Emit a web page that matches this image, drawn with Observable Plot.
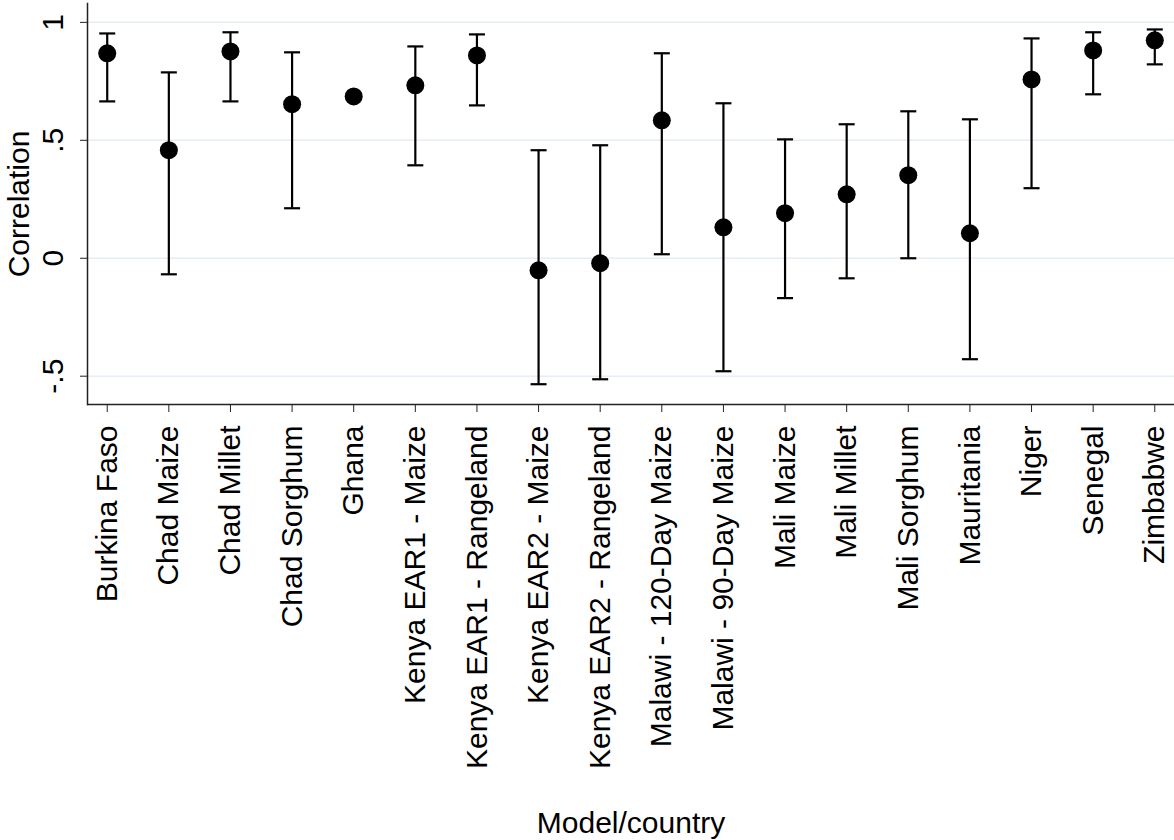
<!DOCTYPE html>
<html>
<head>
<meta charset="utf-8">
<script src="https://cdn.jsdelivr.net/npm/d3@7"></script>
<script src="https://cdn.jsdelivr.net/npm/@observablehq/plot@0.6"></script>
<style>
  html, body { margin: 0; padding: 0; background: #fff; }
  #chart svg { display: block; }
</style>
</head>
<body>
<div id="chart"></div>
<script>
const categories = [
  "Burkina Faso", "Chad Maize", "Chad Millet", "Chad Sorghum", "Ghana",
  "Kenya EAR1 - Maize", "Kenya EAR1 - Rangeland", "Kenya EAR2 - Maize",
  "Kenya EAR2 - Rangeland", "Malawi - 120-Day Maize", "Malawi - 90-Day Maize",
  "Mali Maize", "Mali Millet", "Mali Sorghum", "Mauritania", "Niger",
  "Senegal", "Zimbabwe"
];
const estimates = [0.869, 0.458, 0.877, 0.653, 0.686, 0.733, 0.860, -0.051, -0.021, 0.585, 0.131, 0.191, 0.271, 0.352, 0.106, 0.758, 0.881, 0.924];
const lower     = [0.665, -0.068, 0.665, 0.212, null, 0.394, 0.648, -0.534, -0.513, 0.017, -0.479, -0.169, -0.085, 0.000, -0.428, 0.297, 0.695, 0.822];
const upper     = [0.953, 0.788, 0.958, 0.873, null, 0.898, 0.949, 0.458, 0.479, 0.869, 0.657, 0.504, 0.568, 0.623, 0.589, 0.932, 0.958, 0.970];
const yTicks = [-0.5, 0, 0.5, 1];
const yTickLabels = ["-.5", "0", ".5", "1"];

const rows = categories.map((c, i) => ({name: c, est: estimates[i], lo: lower[i], hi: upper[i]}));
const bars = rows.filter(d => d.lo != null && d.hi != null);
const caps = bars.flatMap(d => [{name: d.name, v: d.lo}, {name: d.name, v: d.hi}]);

const capSymbol = {
  draw(context, size) {
    const r = Math.sqrt(size / Math.PI);
    context.moveTo(-r, 0);
    context.lineTo(r, 0);
  }
};

const chart = Plot.plot({
  width: 1174,
  height: 840,
  marginLeft: 87,
  marginRight: 0,
  marginTop: 3,
  marginBottom: 436,
  style: {fontFamily: "'Liberation Sans', Arial, sans-serif", fontSize: "30px", color: "#000", background: "#fff"},
  x: {type: "point", domain: categories, padding: 0.32, round: false},
  y: {domain: [-0.62, 1.08]},
  marks: [
    Plot.gridY(yTicks, {stroke: "#e6eef5", strokeOpacity: 1, strokeWidth: 1.5}),
    Plot.ruleY([-0.62], {stroke: "#222", strokeWidth: 1.5}),
    Plot.frame({anchor: "left", stroke: "#222", strokeWidth: 1.5}),
    Plot.axisY(yTicks, {
      tickFormat: (d) => yTickLabels[yTicks.indexOf(d)],
      tickRotate: -90, tickSize: 7, tickPadding: 18, stroke: "#222", fontSize: 30,
      label: "Correlation", labelAnchor: "center", labelOffset: 80, labelArrow: "none"
    }),
    Plot.axisX({
      tickRotate: -90, tickSize: 8, tickPadding: 13, stroke: "#222", fontSize: 30,
      label: "Model/country", labelAnchor: "center", labelOffset: 428, labelArrow: "none"
    }),
    Plot.ruleX(bars, {x: "name", y1: "lo", y2: "hi", stroke: "#000", strokeWidth: 2.2}),
    Plot.dot(caps, {x: "name", y: "v", symbol: capSymbol, r: 8, stroke: "#000", strokeWidth: 2.2, fill: "none"}),
    Plot.dot(rows, {x: "name", y: "est", r: 9, fill: "#000", stroke: "none"})
  ]
});
document.getElementById("chart").appendChild(chart);
</script>
</body>
</html>
